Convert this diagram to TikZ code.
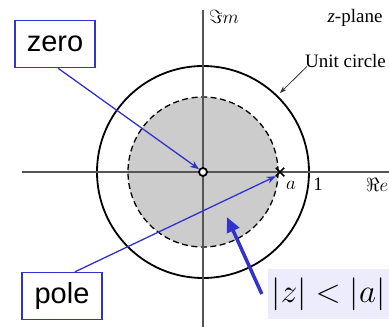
\RequirePackage{fix-cm}
\documentclass[tikz,border=0pt]{standalone}
\usepackage{amsmath}
\usepackage{fontspec}
\setmainfont{Liberation Serif}
\newfontfamily\labelfont{Liberation Sans}
\usepackage{tikz}
\usetikzlibrary{
  arrows.meta,
  positioning,
  shapes.misc,
  calc
}
\usepackage{xcolor}
\definecolor{callblue} {RGB}{50,  50, 205}
\definecolor{axisgray} {RGB}{85,  85,  85}
\definecolor{roifill}  {RGB}{204, 204, 204}
\definecolor{mathfill} {RGB}{236, 236, 252}
\tikzset{
  callbox/.style={
    draw=callblue, fill=white, line width=1.4pt,
    minimum width=80pt, minimum height=47pt,
    align=center, inner sep=2pt,
    font=\labelfont\fontsize{29}{31}\selectfont
  },
  axisline/.style={
    draw=axisgray, line width=1.5pt
  },
  planelabel/.style={
    inner sep=1pt, font=\fontsize{19}{21}\selectfont
  },
  callarrow/.style={
    -{Stealth[length=9pt,width=7pt]}, callblue, line width=1.3pt
  },
}

\begin{document}
\begin{tikzpicture}[x=1pt, y=-1pt]
\useasboundingbox (0,0) rectangle (389,327);

% ── Region of convergence and circles ─────────────────────────────────────────
\coordinate (origin) at (203,172);
\fill[roifill] (origin) circle (75);
\draw[black, line width=1.3pt, dash pattern=on 6pt off 3.5pt] (origin) circle (75);
\draw[black, line width=1.8pt] (origin) circle (106);

% ── Axes ──────────────────────────────────────────────────────────────────────
\draw[axisline] (22,172) -- (389,172);
\draw[axisline] (203,10) -- (203,327);

% ── Axis and plane labels ─────────────────────────────────────────────────────
\node[planelabel] (imlabel) at (224,17) {$\Im m$};
\node[planelabel] (relabel) at (377,185) {$\Re e$};
\node[planelabel] (alabel) at (291,185) {$a$};
\node[planelabel] (onelabel) at (318,184) {1};
\node[planelabel, anchor=base] (plane) at (355,22) {\textit{z}-plane};
\node[planelabel, anchor=base west] (ucirc) at (304,67) {Unit circle};

\coordinate (ucpoint) at (280,93);
\draw[-{Stealth[length=7pt,width=5pt]}, black!80, line width=0.8pt]
  ($(ucirc.south west)+(3,-2)$) -- (ucpoint);

% ── Zero and pole ─────────────────────────────────────────────────────────────
\node[circle, draw=black, fill=white, line width=1.8pt,
      minimum size=8pt, inner sep=0pt] (zero) at (origin) {};
\node[cross out, draw=black, line width=1.5pt,
      minimum size=7pt, inner sep=0pt] (pole) at (280,172) {};

% ── Callouts ──────────────────────────────────────────────────────────────────
\node[callbox] (zerobox) at (55,44) {zero};
\node[callbox] (polebox) at (62,296) {pole};

\draw[callarrow] ([xshift=3pt]zerobox.south) -- (zero);
\draw[callarrow] ([xshift=13pt]polebox.north) -- (pole.south west);

\node[fill=mathfill, inner sep=2pt, minimum width=121pt, minimum height=50pt,
      font=\fontsize{33}{36}\selectfont] (roi) at (328.5,294) {$|z|<|a|$};
\coordinate (roipoint) at (227,217);
\draw[-{Triangle[length=15pt,width=13pt]}, callblue, line width=3.5pt]
  ([xshift=-6pt]roi.west) -- (roipoint);

\end{tikzpicture}
\end{document}
